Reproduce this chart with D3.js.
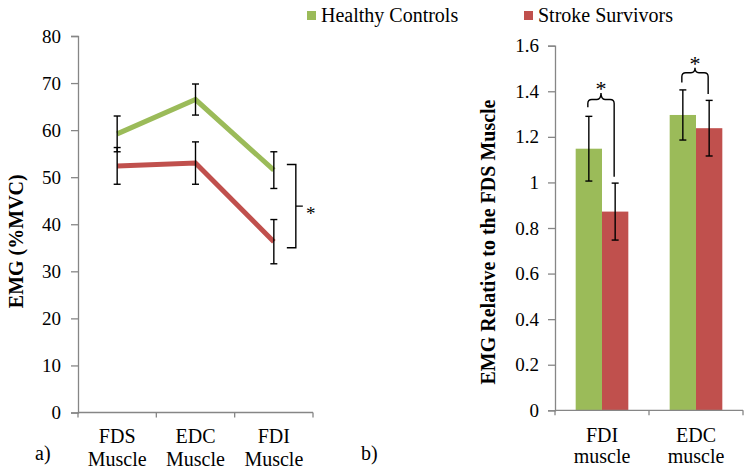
<!DOCTYPE html>
<html>
<head>
<meta charset="utf-8">
<script src="https://cdn.jsdelivr.net/npm/d3@7"></script>
<style>
  body { margin: 0; background: #fff; }
  svg { display: block; font-family: "Liberation Serif", "DejaVu Serif", serif; }
</style>
</head>
<body>
<svg id="chart" width="751" height="475"></svg>
<script>
// ---------- DATA ----------
const seriesNames = ["Healthy Controls", "Stroke Survivors"];
const seriesColors = ["#9BBB59", "#C0504D"];

// Panel a: EMG (%MVC)
const lineCategories = ["FDS|Muscle", "EDC|Muscle", "FDI|Muscle"];
const healthyLine = [59.2, 66.5, 51.5];
const healthyLineErr = [3.8, 3.3, 3.9];
const strokeLine = [52.4, 53.0, 36.3];
const strokeLineErr = [3.9, 4.5, 4.7];
const lineTicks = [0, 10, 20, 30, 40, 50, 60, 70, 80];
// significance brace (value range) at FDI
const lineBrace = { cat: 2, top: 52.7, bottom: 35.0, label: "*" };

// Panel b: EMG relative to FDS
const barCategories = ["FDI|muscle", "EDC|muscle"];
const healthyBar = [1.148, 1.296];
const healthyBarErr = [0.142, 0.11];
const strokeBar = [0.872, 1.238];
const strokeBarErr = [0.125, 0.122];
const barTicks = [0, 0.2, 0.4, 0.6, 0.8, 1, 1.2, 1.4, 1.6];
// significance braces: top level, tip level, left/right leg ends (values)
const barBraces = [
  { cat: 0, top: 1.364, tip: 1.392, leftEnd: 1.33, rightEnd: 1.025, label: "*" },
  { cat: 1, top: 1.481, tip: 1.503, leftEnd: 1.438, rightEnd: 1.388, label: "*" }
];

// ---------- DRAW ----------
const svg = d3.select("#chart");
const axisColor = "#868686";
const FONT = "Liberation Serif, DejaVu Serif, serif";

// Legend
const legend = svg.append("g");
[[307, 321], [524, 538]].forEach((p, i) => {
  legend.append("rect").attr("x", p[0]).attr("y", 11).attr("width", 9).attr("height", 9)
    .attr("fill", seriesColors[i]);
  legend.append("text").attr("x", p[1]).attr("y", 22).attr("font-size", 20)
    .attr("fill", "#000").text(seriesNames[i]);
});

function errBar(g, x, yTop, yBot, cap) {
  g.append("line").attr("x1", x).attr("x2", x).attr("y1", yTop).attr("y2", yBot);
  g.append("line").attr("x1", x - cap).attr("x2", x + cap).attr("y1", yTop).attr("y2", yTop);
  g.append("line").attr("x1", x - cap).attr("x2", x + cap).attr("y1", yBot).attr("y2", yBot);
}

function styleAxis(g) {
  g.attr("font-family", FONT).attr("font-size", 19);
  g.select(".domain").attr("stroke", axisColor).attr("stroke-width", 1.3);
  g.selectAll(".tick line").attr("stroke", axisColor).attr("stroke-width", 1.3);
  g.selectAll(".tick text").attr("fill", "#000");
}

function xLabels(g, scale, cats, y1, y2) {
  cats.forEach(c => {
    const [a, b] = c.split("|");
    const cx = scale(c) + scale.bandwidth() / 2;
    g.append("text").attr("x", cx).attr("y", y1).attr("text-anchor", "middle").attr("font-size", 20).text(a);
    g.append("text").attr("x", cx).attr("y", y2).attr("text-anchor", "middle").attr("font-size", 20).text(b);
  });
}

function xAxisLine(g, scale, cats, y) {
  const r = scale.range();
  g.append("line").attr("x1", r[0]).attr("x2", r[1]).attr("y1", y).attr("y2", y)
    .attr("stroke", axisColor).attr("stroke-width", 1.3);
  const bounds = cats.map(c => scale(c)).concat([r[1]]);
  bounds.forEach(bx => {
    g.append("line").attr("x1", bx).attr("x2", bx).attr("y1", y).attr("y2", y + 5)
      .attr("stroke", axisColor).attr("stroke-width", 1.3);
  });
}

// ---------- Panel a ----------
{
  const g = svg.append("g");
  const y = d3.scaleLinear().domain([0, 80]).range([412.5, 36]);
  const x = d3.scaleBand().domain(lineCategories).range([78, 313]);
  const cx = i => x(lineCategories[i]) + x.bandwidth() / 2;

  const ax = g.append("g").attr("transform", "translate(78,0)")
    .call(d3.axisLeft(y).tickValues(lineTicks).tickSize(7).tickPadding(10).tickFormat(d3.format("d")));
  styleAxis(ax);
  xAxisLine(g, x, lineCategories, 412.5);

  const line = d3.line().x((d, i) => cx(i)).y(d => y(d));
  [strokeLine, healthyLine].forEach((vals, k) => {
    g.append("path").datum(vals).attr("d", line).attr("fill", "none")
      .attr("stroke", seriesColors[1 - k]).attr("stroke-width", 5);
  });

  const eb = g.append("g").attr("stroke", "#000").attr("stroke-width", 1.4);
  [[healthyLine, healthyLineErr], [strokeLine, strokeLineErr]].forEach(([v, e]) => {
    v.forEach((d, i) => errBar(eb, cx(i), y(d + e[i]), y(d - e[i]), 3.5));
  });

  // brace
  const bx = cx(lineBrace.cat) + 22;
  const yt = y(lineBrace.top), yb = y(lineBrace.bottom), ym = (yt + yb) / 2;
  g.append("path")
    .attr("d", `M${bx - 9},${yt} L${bx},${yt} L${bx},${yb} L${bx - 9},${yb} M${bx},${ym} L${bx + 7},${ym}`)
    .attr("fill", "none").attr("stroke", "#000").attr("stroke-width", 1.4);
  g.append("text").attr("x", bx + 15).attr("y", ym + 14).attr("text-anchor", "middle")
    .attr("font-size", 19).text(lineBrace.label);

  xLabels(g, x, lineCategories, 443, 466);

  g.append("text").attr("transform", `translate(23,${(y(0) + y(80)) / 2 + 17}) rotate(-90)`)
    .attr("text-anchor", "middle").attr("font-size", 20).attr("font-weight", "bold")
    .text("EMG (%MVC)");
  g.append("text").attr("x", 35).attr("y", 460).attr("font-size", 20).text("a)");
}

// ---------- Panel b ----------
{
  const g = svg.append("g");
  const y = d3.scaleLinear().domain([0, 1.6]).range([410.3, 45.7]);
  const x0 = d3.scaleBand().domain(barCategories).range([555, 743]);
  const x1 = d3.scaleBand().domain(seriesNames).range([x0.bandwidth() * 0.22, x0.bandwidth() * 0.78]);

  const vals = [healthyBar, strokeBar];
  const errs = [healthyBarErr, strokeBarErr];
  seriesNames.forEach((s, k) => {
    g.selectAll(null).data(vals[k]).enter().append("rect")
      .attr("x", (d, i) => x0(barCategories[i]) + x1(s))
      .attr("width", x1.bandwidth())
      .attr("y", d => y(d))
      .attr("height", d => y(0) - y(d))
      .attr("fill", seriesColors[k]);
  });

  const ax = g.append("g").attr("transform", "translate(555,0)")
    .call(d3.axisLeft(y).tickValues(barTicks).tickSize(7).tickPadding(9).tickFormat(d => d3.format("")(+d.toFixed(1))));
  styleAxis(ax);
  xAxisLine(g, x0, barCategories, 410.3);

  const eb = g.append("g").attr("stroke", "#000").attr("stroke-width", 1.4);
  seriesNames.forEach((s, k) => {
    vals[k].forEach((d, i) => {
      const cx = x0(barCategories[i]) + x1(s) + x1.bandwidth() / 2;
      errBar(eb, cx, y(d + errs[k][i]), y(d - errs[k][i]), 3.5);
    });
  });

  // braces
  barBraces.forEach(b => {
    const cat = barCategories[b.cat];
    const lx = x0(cat) + x1(seriesNames[0]) + x1.bandwidth() / 2 - 1;
    const rx = x0(cat) + x1(seriesNames[1]) + x1.bandwidth() / 2 - 1;
    const mx = (lx + rx) / 2;
    const yt = y(b.top), ytip = y(b.tip), r = 4;
    const d = `M${lx},${y(b.leftEnd)} L${lx},${yt + r} Q${lx},${yt} ${lx + r},${yt} ` +
      `L${mx - r},${yt} Q${mx},${yt} ${mx},${ytip} Q${mx},${yt} ${mx + r},${yt} ` +
      `L${rx - r},${yt} Q${rx},${yt} ${rx},${yt + r} L${rx},${y(b.rightEnd)}`;
    g.append("path").attr("d", d).attr("fill", "none").attr("stroke", "#000").attr("stroke-width", 1.4);
    g.append("text").attr("x", mx).attr("y", ytip + 3).attr("text-anchor", "middle")
      .attr("font-size", 22).text(b.label);
  });

  xLabels(g, x0, barCategories, 442, 463);

  g.append("text").attr("transform", `translate(495,${(y(0) + y(1.6)) / 2 + 14}) rotate(-90)`)
    .attr("text-anchor", "middle").attr("font-size", 20).attr("font-weight", "bold")
    .text("EMG Relative to the FDS Muscle");
  g.append("text").attr("x", 361).attr("y", 460).attr("font-size", 20).text("b)");
}
</script>
</body>
</html>
